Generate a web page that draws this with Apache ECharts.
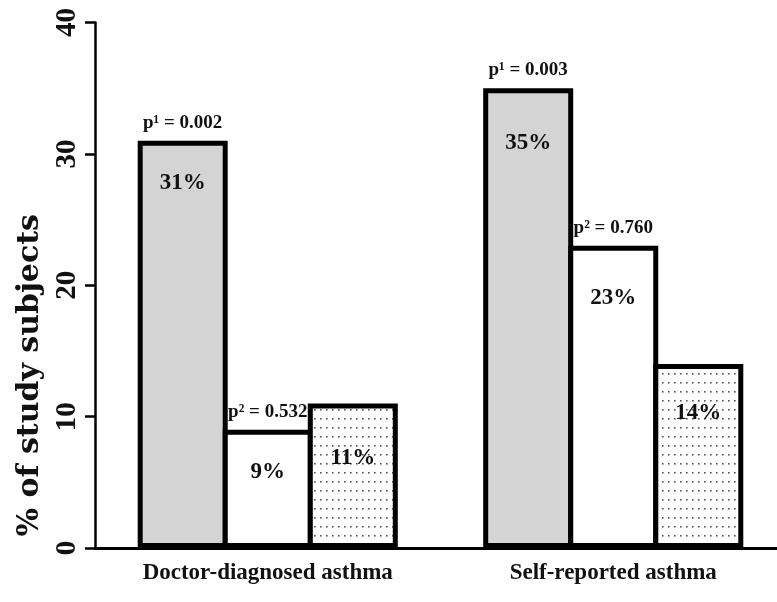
<!DOCTYPE html>
<html>
<head>
<meta charset="utf-8">
<script src="https://cdn.jsdelivr.net/npm/echarts@6/dist/echarts.min.js"></script>
<style>html,body{margin:0;padding:0;background:#fff}#c{width:777px;height:602px}</style>
</head>
<body>
<div id="c"></div>
<script>
// ---- data ----
const categories = ['Doctor-diagnosed asthma', 'Self-reported asthma'];
const greyValues = [31, 35];
const whiteValues = [9, 23];
const dottedValues = [11, 14];
const p1Values = ['0.002', '0.003'];
const p2Values = ['0.532', '0.760'];
const yTicks = [0, 10, 20, 30, 40];

// ---- styling helpers (not data) ----
const greyLabelInset = [31, 43];
const whiteLabelInset = [31, 41];
const dottedLabelInset = [43, 37];

const serif = 'Liberation Serif';

function dotPattern() {
  const c = document.createElement('canvas');
  c.width = 6; c.height = 9;
  const g = c.getContext('2d');
  g.fillStyle = '#fff'; g.fillRect(0, 0, 6, 9);
  g.fillStyle = '#555'; g.fillRect(2, 4, 1.6, 1.6);
  return c;
}

function barItems(values, insets) {
  return values.map((v, i) => ({
    value: v,
    label: { distance: insets[i] }
  }));
}

function pMarks(values, pVals, sup) {
  return values.map((v, i) => ({
    coord: [categories[i], v],
    value: 'p' + sup + ' = ' + pVals[i]
  }));
}

const barLabel = {
  show: true,
  position: 'insideTop',
  formatter: '{c}%',
  fontFamily: serif,
  fontWeight: 'bold',
  fontSize: 23,
  color: '#111'
};

const markStyle = {
  symbol: 'rect',
  symbolSize: 1,
  itemStyle: { color: 'rgba(0,0,0,0)' },
  label: {
    show: true,
    position: 'top',
    distance: 8,
    formatter: p => p.value,
    fontFamily: serif,
    fontWeight: 'bold',
    fontSize: 19,
    color: '#111'
  }
};

const border = { borderColor: '#000', borderWidth: 5 };
const barCommon = { type: 'bar', barWidth: 90, barGap: '-5.5%' };

const chart = echarts.init(document.getElementById('c'), null, { renderer: 'canvas' });
chart.setOption({
  animation: false,
  backgroundColor: '#fff',
  grid: { left: 95, top: 22.5, width: 691, bottom: 54, outerBoundsMode: 'none', containLabel: false },
  xAxis: {
    type: 'category',
    data: categories,
    axisLine: { lineStyle: { color: '#000', width: 3 } },
    axisTick: { alignWithLabel: true, length: 10, lineStyle: { color: '#000', width: 2 } },
    axisLabel: { fontFamily: serif, fontWeight: 'bold', fontSize: 23, color: '#111', margin: 14 }
  },
  yAxis: {
    type: 'value',
    min: yTicks[0],
    max: yTicks[yTicks.length - 1],
    interval: yTicks[1] - yTicks[0],
    splitLine: { show: false },
    axisLine: { show: true, lineStyle: { color: '#000', width: 2.5 } },
    axisTick: { show: true, length: 10, lineStyle: { color: '#000', width: 2.5 } },
    axisLabel: { rotate: 90, fontFamily: serif, fontWeight: 'bold', fontSize: 29, color: '#111', margin: 13 },
    name: '% of study subjects',
    nameLocation: 'middle',
    nameGap: 49,
    nameTextStyle: { fontFamily: 'DejaVu Serif', fontWeight: 'bold', fontSize: 30, color: '#111', padding: [0, 180, 0, 0] }
  },
  series: [
    Object.assign({}, barCommon, {
      name: 'grey',
      data: barItems(greyValues, greyLabelInset),
      itemStyle: Object.assign({ color: '#d4d4d4' }, border),
      label: barLabel,
      markPoint: Object.assign({ data: pMarks(greyValues, p1Values, '¹') }, markStyle)
    }),
    Object.assign({}, barCommon, {
      name: 'white',
      data: barItems(whiteValues, whiteLabelInset),
      itemStyle: Object.assign({ color: '#fff' }, border),
      label: barLabel,
      markPoint: Object.assign({ data: pMarks(whiteValues, p2Values, '²') }, markStyle)
    }),
    Object.assign({}, barCommon, {
      name: 'dotted',
      data: barItems(dottedValues, dottedLabelInset),
      itemStyle: Object.assign({ color: { image: dotPattern(), repeat: 'repeat' } }, border),
      label: barLabel
    })
  ]
});
</script>
</body>
</html>
